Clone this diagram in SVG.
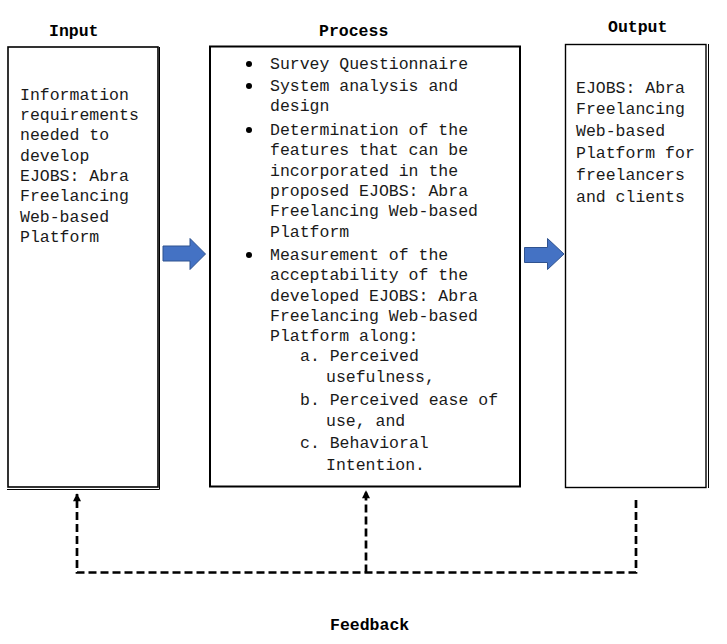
<svg xmlns="http://www.w3.org/2000/svg" width="727" height="644" viewBox="0 0 727 644">
<defs>
<style>
.t{font-family:"Liberation Mono","Courier New",monospace;font-size:16.5px;fill:#1a1a1a;}
.h{font-family:"Liberation Mono","Courier New",monospace;font-size:16.5px;font-weight:bold;fill:#000;}
.box{fill:#fff;stroke:#000;}
.blk{fill:#4472C4;stroke:#2F528F;stroke-width:1;}
.fb{fill:none;stroke:#000;stroke-width:2.7;stroke-dasharray:8 4;}
</style>
<marker id="ah" viewBox="0 0 10 10" refX="9" refY="5" markerWidth="9" markerHeight="8" markerUnits="userSpaceOnUse" orient="auto">
<path d="M0,0 L10,5 L0,10 Z" fill="#000"/>
</marker>
</defs>
<rect width="727" height="644" fill="#fff"/>

<g id="input">
<text class="h" x="49" y="36">Input</text>
<rect class="box" x="8" y="47" width="150" height="440" stroke-width="1.6"/>
<line x1="7" y1="489.5" x2="159.5" y2="489.5" stroke="#000" stroke-width="1"/>
<line x1="159.5" y1="47" x2="159.5" y2="489.5" stroke="#000" stroke-width="1"/>
<text class="t" x="20" y="100">Information</text>
<text class="t" x="20" y="120">requirements</text>
<text class="t" x="20" y="140">needed to</text>
<text class="t" x="20" y="161">develop</text>
<text class="t" x="20" y="181">EJOBS: Abra</text>
<text class="t" x="20" y="201">Freelancing</text>
<text class="t" x="20" y="222">Web-based</text>
<text class="t" x="20" y="242">Platform</text>
</g>

<g id="process">
<text class="h" x="319" y="36">Process</text>
<rect class="box" x="210" y="46.5" width="310" height="440" stroke-width="2"/>
<circle cx="249" cy="64" r="3"/>
<circle cx="249" cy="86" r="3"/>
<circle cx="249" cy="130" r="3"/>
<circle cx="249" cy="255" r="3"/>
<text class="t" x="270" y="69">Survey Questionnaire</text>
<text class="t" x="270" y="91">System analysis and</text>
<text class="t" x="270" y="111">design</text>
<text class="t" x="270" y="135">Determination of the</text>
<text class="t" x="270" y="155">features that can be</text>
<text class="t" x="270" y="176">incorporated in the</text>
<text class="t" x="270" y="196">proposed EJOBS: Abra</text>
<text class="t" x="270" y="216">Freelancing Web-based</text>
<text class="t" x="270" y="237">Platform</text>
<text class="t" x="270" y="260">Measurement of the</text>
<text class="t" x="270" y="280">acceptability of the</text>
<text class="t" x="270" y="301">developed EJOBS: Abra</text>
<text class="t" x="270" y="321">Freelancing Web-based</text>
<text class="t" x="270" y="341">Platform along:</text>
<text class="t" x="300" y="361">a. Perceived</text>
<text class="t" x="326" y="382">usefulness,</text>
<text class="t" x="300" y="405">b. Perceived ease of</text>
<text class="t" x="326" y="426">use, and</text>
<text class="t" x="300" y="448">c. Behavioral</text>
<text class="t" x="326" y="470">Intention.</text>
</g>

<g id="output">
<text class="h" x="608" y="32">Output</text>
<rect class="box" x="565.5" y="44.5" width="140.5" height="443" stroke-width="1.4"/>
<line x1="708.5" y1="44" x2="708.5" y2="488" stroke="#000" stroke-width="1"/>
<text class="t" x="576" y="93">EJOBS: Abra</text>
<text class="t" x="576" y="114">Freelancing</text>
<text class="t" x="576" y="136">Web-based</text>
<text class="t" x="576" y="158">Platform for</text>
<text class="t" x="576" y="180">freelancers</text>
<text class="t" x="576" y="202">and clients</text>
</g>

<g id="connectors">
<path class="blk" d="M163,246 H190 V238.5 L205.5,254 L190,269.5 V261 H163 Z"/>
<path class="blk" d="M524.5,247.5 H547.5 V238.5 L564,254 L547.5,269.5 V262.5 H524.5 Z"/>
<path class="fb" d="M636,500 V572.5 H77 V494" marker-end="url(#ah)"/>
<path class="fb" d="M366,572.5 V491" marker-end="url(#ah)"/>
</g>

<g id="feedback">
<text class="h" x="330" y="630">Feedback</text>
</g>
</svg>
